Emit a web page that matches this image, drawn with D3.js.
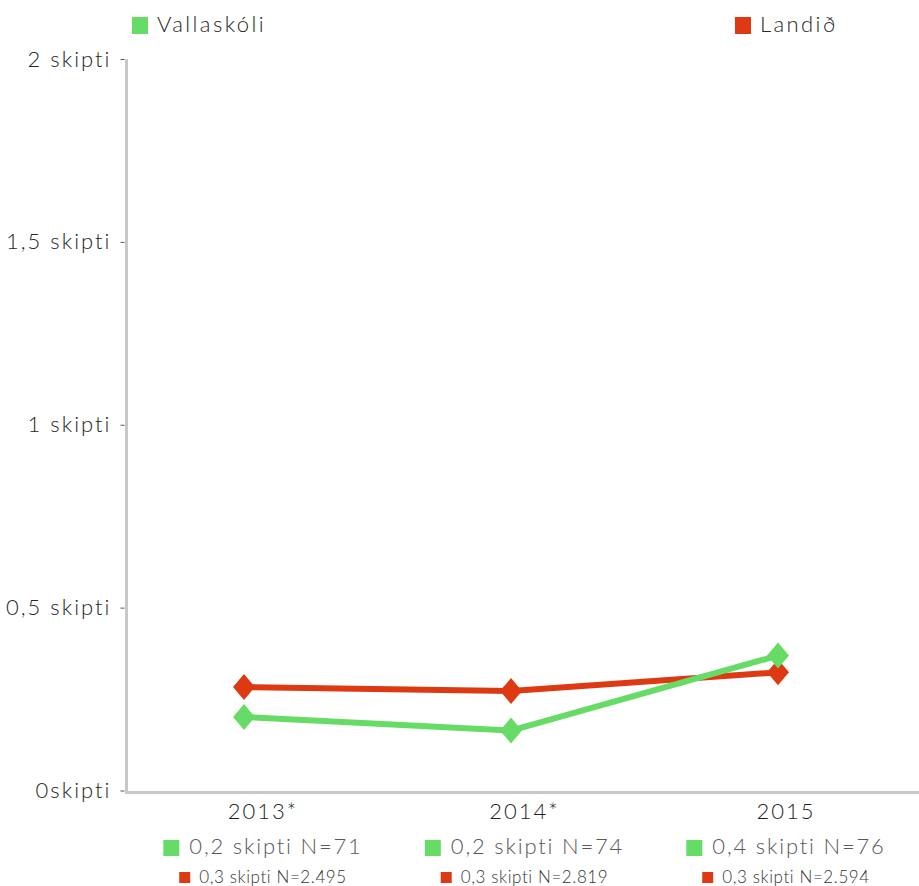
<!DOCTYPE html>
<html>
<head>
<meta charset="utf-8">
<script src="https://cdn.jsdelivr.net/npm/d3@7"></script>
<style>
  body { margin: 0; background: #fff; }
  svg text { font-family: Lato, "Open Sans", sans-serif; font-weight: 300; }
</style>
</head>
<body>
<svg id="chart" width="919" height="886"></svg>
<script>
// Meðalfjöldi skipta – Vallaskóli borinn saman við landið
const years = ["2013*", "2014*", "2015"];
const seriesNames = ["Vallaskóli", "Landið"];
const vallaskoli = [0.201, 0.164, 0.369];
const landid = [0.283, 0.272, 0.323];
const vallaskoliN = [71, 74, 76];
const landidN = [2495, 2819, 2594];
const yTicks = [0, 0.5, 1, 1.5, 2];
const yTickLabels = ["0skipti", "0,5 skipti", "1 skipti", "1,5 skipti", "2 skipti"];
const colors = ["#66dc66", "#dd3a13"];

const is = d3.formatLocale({ decimal: ",", thousands: ".", grouping: [3], currency: ["", " kr."] });
const fmtVal = is.format(".1f");
const fmtN = is.format(",d");

const svg = d3.select("#chart");

const y = d3.scaleLinear().domain([0, 2]).range([790.5, 59]);
const x = d3.scalePoint().domain(years).range([244, 778]);
const xLab = d3.scalePoint().domain(years).range([263, 786]);

// axis lines
svg.append("line")
  .attr("x1", 126.5).attr("x2", 126.5)
  .attr("y1", y(2)).attr("y2", y(0) + 3.5)
  .attr("stroke", "#c8c8c8").attr("stroke-width", 3);
svg.append("line")
  .attr("x1", 125).attr("x2", 919)
  .attr("y1", y(0) + 2).attr("y2", y(0) + 2)
  .attr("stroke", "#c8c8c8").attr("stroke-width", 3);

// y axis ticks and labels
const yAxis = svg.append("g")
  .attr("transform", "translate(124.5,0)")
  .call(d3.axisLeft(y).tickValues(yTicks)
    .tickFormat((d, i) => yTickLabels[i])
    .tickSize(4).tickPadding(9));
yAxis.select(".domain").remove();
yAxis.selectAll(".tick line").attr("stroke", "#595959");
yAxis.selectAll(".tick text")
  .attr("fill", "#262626")
  .style("font-size", "22px")
  .style("letter-spacing", "2px");

// series
const series = [
  { name: seriesNames[1], values: landid, color: colors[1] },
  { name: seriesNames[0], values: vallaskoli, color: colors[0] }
];
const line = d3.line().x((d, i) => x(years[i])).y(d => y(d));
const diamond = "M0,-13L11,0L0,13L-11,0Z";

series.forEach(s => {
  svg.append("path")
    .attr("d", line(s.values))
    .attr("fill", "none")
    .attr("stroke", s.color)
    .attr("stroke-width", 6)
    .attr("stroke-linejoin", "round");
});
series.forEach(s => {
  svg.append("g").selectAll("path")
    .data(s.values)
    .join("path")
    .attr("d", diamond)
    .attr("transform", (d, i) => `translate(${x(years[i])},${y(d)})`)
    .attr("fill", s.color);
});

// top legend
const legendPos = [132, 735];
seriesNames.forEach((name, i) => {
  const g = svg.append("g").attr("transform", `translate(${legendPos[i]},0)`);
  g.append("rect").attr("x", 0).attr("y", 17).attr("width", 16).attr("height", 17).attr("fill", colors[i]);
  g.append("text").attr("x", 25).attr("y", 32)
    .attr("fill", "#262626")
    .style("font-size", "22px")
    .style("letter-spacing", "2.4px")
    .text(name);
});

// category labels
svg.append("g").selectAll("text")
  .data(years)
  .join("text")
  .attr("x", d => xLab(d))
  .attr("y", 819)
  .attr("text-anchor", "middle")
  .attr("fill", "#1f1f1f")
  .style("font-size", "22px")
  .style("letter-spacing", "2px")
  .text(d => d);

// per-year value rows under the categories
function valueRow(values, ns, color, opt) {
  years.forEach((yr, i) => {
    const g = svg.append("g");
    g.append("rect")
      .attr("width", opt.sq).attr("height", opt.sq)
      .attr("y", opt.base - opt.sq + opt.sqDrop)
      .attr("fill", color);
    const t = g.append("text")
      .attr("x", opt.sq + opt.gap)
      .attr("y", opt.base)
      .attr("fill", opt.fill)
      .style("font-size", opt.size + "px")
      .style("letter-spacing", opt.ls + "px")
      .text(`${fmtVal(values[i])} skipti N=${fmtN(ns[i])}`);
    const w = opt.sq + opt.gap + t.node().getComputedTextLength();
    g.attr("transform", `translate(${xLab(yr) - w / 2},0)`);
  });
}
valueRow(vallaskoli, vallaskoliN, colors[0],
  { sq: 16, gap: 10, base: 854, sqDrop: 2, size: 22, ls: 1.8, fill: "#595959" });
valueRow(landid, landidN, colors[1],
  { sq: 11, gap: 9, base: 883, sqDrop: 0, size: 17, ls: 0.6, fill: "#333" });
</script>
</body>
</html>
